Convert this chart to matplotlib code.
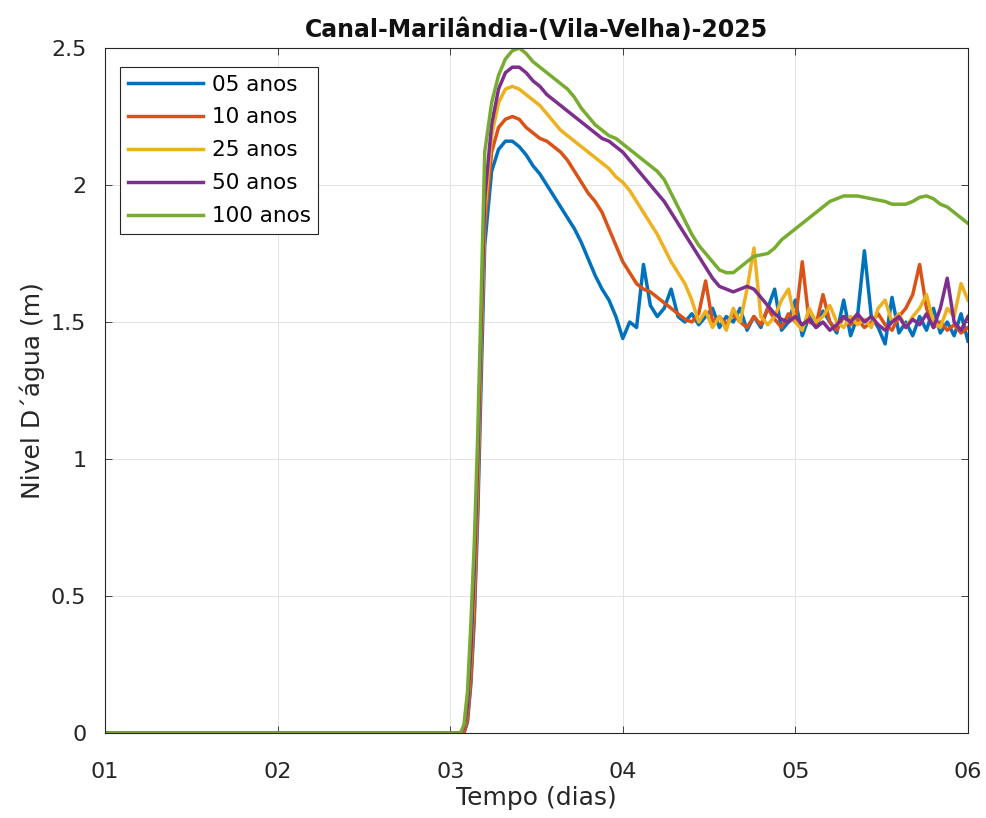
import numpy as np
import matplotlib.pyplot as plt

plt.rcParams['font.family'] = ['DejaVu Sans']

# tempo (dias)
tempo = [1.0, 3.0, 3.06, 3.08, 3.10, 3.12, 3.14, 3.16, 3.18,
         3.20, 3.24, 3.28, 3.32, 3.36, 3.40, 3.44, 3.48, 3.52, 3.56,
         3.60, 3.64, 3.68, 3.72, 3.76, 3.80, 3.84, 3.88, 3.92, 3.96,
         4.00, 4.04, 4.08, 4.12, 4.16, 4.20, 4.24, 4.28, 4.32, 4.36,
         4.40, 4.44, 4.48, 4.52, 4.56, 4.60, 4.64, 4.68, 4.72, 4.76,
         4.80, 4.84, 4.88, 4.92, 4.96, 5.00, 5.04, 5.08, 5.12, 5.16,
         5.20, 5.24, 5.28, 5.32, 5.36, 5.40, 5.44, 5.48, 5.52, 5.56,
         5.60, 5.64, 5.68, 5.72, 5.76, 5.80, 5.84, 5.88, 5.92, 5.96,
         6.00]

nivel_05 = [0, 0, 0, 0.00, 0.04, 0.18, 0.42, 0.80, 1.30,
            1.78, 2.05, 2.13, 2.16, 2.16, 2.14, 2.11, 2.07, 2.04, 2.00,
            1.96, 1.92, 1.88, 1.84, 1.79, 1.73, 1.67, 1.62, 1.58, 1.52,
            1.44, 1.50, 1.48, 1.71, 1.56, 1.52, 1.55, 1.62, 1.52, 1.50,
            1.53, 1.49, 1.52, 1.55, 1.48, 1.52, 1.50, 1.55, 1.47, 1.52,
            1.48, 1.55, 1.62, 1.47, 1.50, 1.58, 1.45, 1.52, 1.48, 1.54,
            1.50, 1.46, 1.58, 1.45, 1.52, 1.76, 1.52, 1.48, 1.42, 1.59,
            1.46, 1.50, 1.45, 1.52, 1.47, 1.55, 1.46, 1.50, 1.45, 1.53,
            1.43]

nivel_10 = [0, 0, 0, 0.00, 0.05, 0.20, 0.45, 0.85, 1.40,
            1.85, 2.12, 2.21, 2.24, 2.25, 2.24, 2.21, 2.19, 2.17, 2.16,
            2.14, 2.12, 2.09, 2.05, 2.01, 1.97, 1.94, 1.90, 1.84, 1.78,
            1.72, 1.68, 1.64, 1.62, 1.61, 1.59, 1.57, 1.55, 1.53, 1.51,
            1.50, 1.53, 1.65, 1.50, 1.52, 1.49, 1.53, 1.50, 1.48, 1.52,
            1.49, 1.55, 1.51, 1.48, 1.53, 1.50, 1.72, 1.50, 1.49, 1.60,
            1.50, 1.47, 1.52, 1.49, 1.51, 1.48, 1.50, 1.53, 1.49, 1.47,
            1.52, 1.55, 1.60, 1.71, 1.55, 1.48, 1.50, 1.47, 1.49, 1.46,
            1.48]

nivel_25 = [0, 0, 0, 0.02, 0.10, 0.28, 0.55, 0.95, 1.45,
            1.90, 2.18, 2.30, 2.35, 2.36, 2.35, 2.33, 2.31, 2.29, 2.26,
            2.23, 2.20, 2.18, 2.16, 2.14, 2.12, 2.10, 2.08, 2.06, 2.03,
            2.01, 1.98, 1.94, 1.90, 1.86, 1.82, 1.77, 1.72, 1.68, 1.64,
            1.58, 1.50, 1.54, 1.48, 1.52, 1.47, 1.55, 1.50, 1.62, 1.77,
            1.52, 1.49, 1.52, 1.58, 1.62, 1.50, 1.47, 1.55, 1.50, 1.52,
            1.56, 1.50, 1.48, 1.52, 1.49, 1.51, 1.48, 1.55, 1.58, 1.50,
            1.53, 1.48, 1.52, 1.55, 1.60, 1.50, 1.48, 1.55, 1.52, 1.64,
            1.58]

nivel_50 = [0, 0, 0, 0.02, 0.10, 0.30, 0.60, 1.00, 1.50,
            1.95, 2.22, 2.35, 2.41, 2.43, 2.43, 2.41, 2.38, 2.36, 2.33,
            2.31, 2.29, 2.27, 2.25, 2.23, 2.21, 2.19, 2.17, 2.16, 2.14,
            2.12, 2.09, 2.06, 2.03, 2.00, 1.97, 1.94, 1.90, 1.86, 1.82,
            1.78, 1.74, 1.70, 1.66, 1.63, 1.62, 1.61, 1.62, 1.63, 1.62,
            1.59, 1.56, 1.53, 1.51, 1.50, 1.52, 1.49, 1.51, 1.48, 1.50,
            1.47, 1.49, 1.52, 1.50, 1.53, 1.50, 1.52, 1.49, 1.47, 1.50,
            1.52, 1.48, 1.51, 1.49, 1.53, 1.48, 1.55, 1.66, 1.50, 1.47,
            1.52]

nivel_100 = [0, 0, 0, 0.03, 0.15, 0.40, 0.70, 1.10, 1.60,
             2.12, 2.30, 2.40, 2.46, 2.49, 2.50, 2.48, 2.45, 2.43, 2.41,
             2.39, 2.37, 2.35, 2.32, 2.28, 2.25, 2.22, 2.20, 2.18, 2.17,
             2.15, 2.13, 2.11, 2.09, 2.07, 2.05, 2.02, 1.97, 1.92, 1.87,
             1.82, 1.78, 1.75, 1.72, 1.69, 1.68, 1.68, 1.70, 1.72, 1.74,
             1.745, 1.75, 1.77, 1.80, 1.82, 1.84, 1.86, 1.88, 1.90, 1.92,
             1.94, 1.95, 1.96, 1.96, 1.96, 1.955, 1.95, 1.945, 1.94, 1.93,
             1.93, 1.93, 1.94, 1.955, 1.96, 1.95, 1.93, 1.92, 1.90, 1.88,
             1.86]

series = [nivel_05, nivel_10, nivel_25, nivel_50, nivel_100]
rotulos = ['05 anos', '10 anos', '25 anos', '50 anos', '100 anos']
cores = ['#0072BD', '#D95319', '#EDB120', '#7E2F8E', '#77AC30']

fig = plt.figure(figsize=(9.87, 8.18), dpi=100)
ax = fig.add_axes([0.1064, 0.1039, 0.8743, 0.8374])

for y, lab, c in zip(series, rotulos, cores):
    ax.plot(tempo, y, color=c, lw=2.5, label=lab)

ax.set_xlim(1, 6)
ax.set_ylim(0, 2.5)
ax.set_xticks([1, 2, 3, 4, 5, 6])
ax.set_xticklabels(['01', '02', '03', '04', '05', '06'])
ax.set_yticks([0, 0.5, 1, 1.5, 2, 2.5])
ax.set_yticklabels(['0', '0.5', '1', '1.5', '2', '2.5'])
ax.tick_params(direction='in', top=True, right=True, labelsize=16,
               colors='#262626', length=5, width=0.6)
ax.tick_params(axis='x', pad=21)
ax.tick_params(axis='y', pad=13.5)
ax.grid(True, color='#e3e3e3', lw=0.7)
for s in ax.spines.values():
    s.set_color('#262626')
    s.set_linewidth(0.8)

ax.set_xlabel('Tempo (dias)', fontsize=18, color='#262626', labelpad=3)
ax.set_ylabel('Nivel D´água (m)', fontsize=18, color='#262626', labelpad=4)
ax.set_title('Canal-Marilândia-(Vila-Velha)-2025', fontsize=17,
             fontweight='bold', color='#111111', pad=8)

leg = ax.legend(loc='upper left', bbox_to_anchor=(0.0175, 0.9723), fontsize=15.5,
                handlelength=3.5, handletextpad=0.4, fancybox=False, framealpha=1,
                edgecolor='#262626', borderpad=0.35, labelspacing=0.6,
                borderaxespad=0)
leg.get_frame().set_linewidth(0.8)

fig.savefig('out.png', dpi=100)
